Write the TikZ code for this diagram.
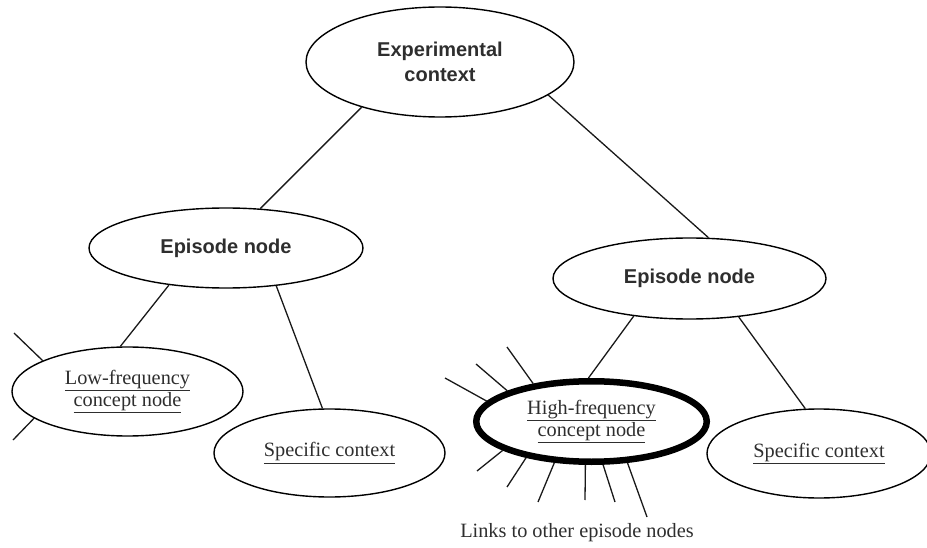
\documentclass[tikz,border=0pt]{standalone}
\usepackage{fontspec}
\setmainfont{Liberation Serif}
\setsansfont{Liberation Sans}
\usetikzlibrary{shapes.geometric}
\definecolor{txt}{gray}{0.18}
\tikzset{
  ell/.style={ellipse, draw=black, line width=1.4pt, inner sep=0pt, align=center, text=txt},
  boldnode/.style={ell, font=\sffamily\bfseries\fontsize{20}{24.5}\selectfont},
  serifnode/.style={ell, font=\rmfamily\fontsize{20.3}{22.5}\selectfont},
  hinode/.style={serifnode, line width=6.5pt},
  link/.style={line width=1.3pt, draw=black!90},
}
\newcommand{\ul}[1]{\underline{#1}}
\begin{document}
\begin{tikzpicture}[x=1pt,y=-1pt]
\useasboundingbox (0,0) rectangle (927,548);
% nodes
\node[boldnode, minimum width=268, minimum height=110] (exp) at (440,62) {Experimental\\context};
\node[boldnode, minimum width=274, minimum height=80] (epL) at (226,248) {Episode node};
\node[boldnode, minimum width=273, minimum height=81] (epR) at (689.5,278.5) {Episode node};
\node[serifnode, minimum width=231, minimum height=89] (low) at (127.5,391.5) {\ul{Low-frequency}\\\ul{concept node}};
\node[serifnode, minimum width=231, minimum height=88] (specL) at (329.5,453) {\ul{Specific context}};
\node[hinode, minimum width=230.5, minimum height=80.5] (hf) at (591.5,421.5) {\ul{High-frequency}\\\ul{concept node}};
\node[serifnode, minimum width=224, minimum height=89] (specR) at (819,453.5) {\ul{Specific context}};
\node[anchor=base, font=\rmfamily\fontsize{20.3}{22}\selectfont, text=txt, inner sep=0pt] (links) at (577,537) {Links to other episode nodes};
% tree connectors
\draw[link] (exp.210) -- (epL.49);
\draw[link] (exp.343) -- (epR.65.5);
\draw[link] (epL.213) -- (low.99.6);
\draw[link] (epL.323) -- (specL.99.7);
\draw[link] (epR.214) -- (hf.94.6);
\draw[link] (epR.322.7) -- (specR.107.5);
% free link ends
\coordinate (l1) at (14,333);
\coordinate (l2) at (13,440);
\coordinate (h1) at (445,378);
\coordinate (h2) at (476,364);
\coordinate (h3) at (507,347);
\coordinate (h4) at (477,471);
\coordinate (h5) at (507,487);
\coordinate (h6) at (538,502);
\coordinate (h7) at (585,500);
\coordinate (h8) at (615,502);
\coordinate (h9) at (647,517);
\draw[link] (low.160.4) -- (l1);
\draw[link] (low.196.2) -- (l2);
\draw[link] (hf.169.9) -- (h1);
\draw[link] (hf.160.4) -- (h2);
\draw[link] (hf.147.3) -- (h3);
\draw[link] (hf.198) -- (h4);
\draw[link] (hf.209.9) -- (h5);
\draw[link] (hf.228.3) -- (h6);
\draw[link] (hf.262.4) -- (h7);
\draw[link] (hf.285.6) -- (h8);
\draw[link] (hf.311.8) -- (h9);
\end{tikzpicture}
\end{document}
